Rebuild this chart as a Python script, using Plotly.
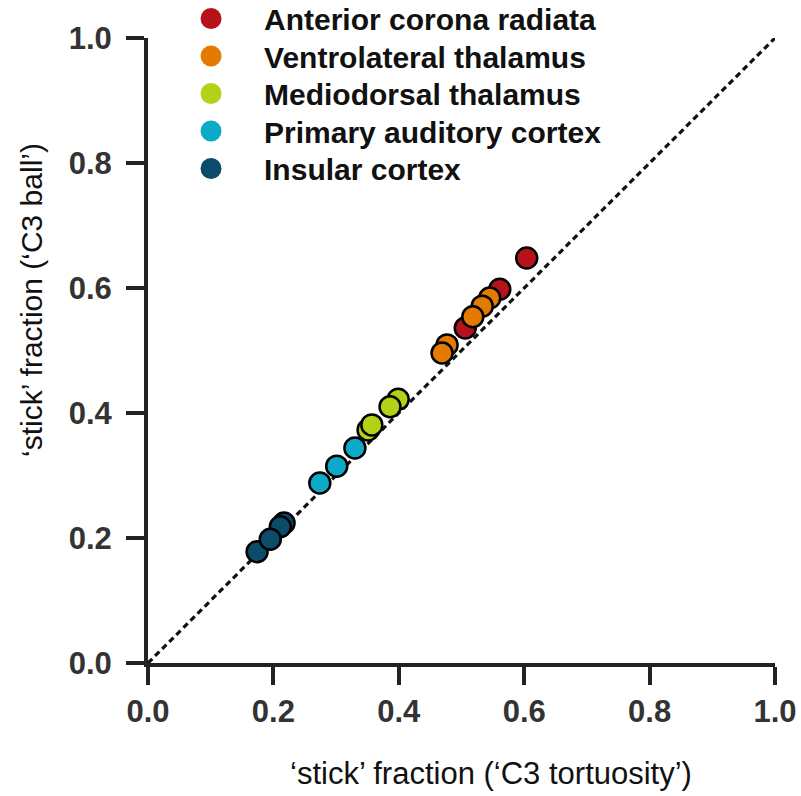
import plotly.graph_objects as go

regions = ["Anterior corona radiata", "Ventrolateral thalamus", "Mediodorsal thalamus",
           "Primary auditory cortex", "Insular cortex"]
colors = ["#B5121B", "#E57A00", "#B5D117", "#0DA9C8", "#0A4C6A"]

acr_x = [0.604, 0.561, 0.506]
acr_y = [0.648, 0.598, 0.536]
vlt_x = [0.545, 0.533, 0.518, 0.477, 0.469]
vlt_y = [0.584, 0.571, 0.554, 0.509, 0.496]
mdt_x = [0.399, 0.386, 0.351, 0.357]
mdt_y = [0.422, 0.410, 0.373, 0.381]
pac_x = [0.330, 0.301, 0.274]
pac_y = [0.344, 0.315, 0.288]
ins_x = [0.217, 0.211, 0.174, 0.195]
ins_y = [0.224, 0.218, 0.178, 0.198]

xs = [acr_x, vlt_x, mdt_x, pac_x, ins_x]
ys = [acr_y, vlt_y, mdt_y, pac_y, ins_y]

tick_vals = [0, 0.2, 0.4, 0.6, 0.8, 1.0]
tick_text = ["0.0", "0.2", "0.4", "0.6", "0.8", "1.0"]
identity = [0.0, 1.0]

x_title = "‘stick’ fraction (‘C3 tortuosity’)"
y_title = "‘stick’ fraction (‘C3 ball’)"

FONT = "Liberation Sans, Arial, Helvetica"

# plot area geometry (px)
plot_left, plot_w = 148, 627
plot_top, plot_h = 38, 625


def px_to_paper_x(px):
    return (px - plot_left) / plot_w


def px_to_paper_y(py):
    return (plot_top + plot_h - py) / plot_h


fig = go.Figure()
fig.add_trace(go.Scatter(x=identity, y=identity, mode="lines",
                         line=dict(color="#111", width=3.2, dash="6px,4px"),
                         showlegend=False, hoverinfo="skip"))
for name, c, x, y in zip(regions, colors, xs, ys):
    fig.add_trace(go.Scatter(x=x, y=y, mode="markers", name=name, showlegend=False,
                             marker=dict(size=21, color=c, line=dict(color="#000", width=2.5))))

legend_names = ["legend", "legend2", "legend3", "legend4", "legend5"]
legend_rows_px = [19, 56.5, 94, 131.5, 169]
legend_layouts = {}
for i, (name, c) in enumerate(zip(regions, colors)):
    fig.add_trace(go.Scatter(x=[None], y=[None], mode="markers", name=name,
                             legend=legend_names[i],
                             marker=dict(size=16, color=c, line=dict(color=c, width=5))))
    legend_layouts[legend_names[i]] = dict(
        x=0.016, y=px_to_paper_y(legend_rows_px[i] - 0.5),
        xanchor="left", yanchor="middle", bgcolor="rgba(0,0,0,0)", itemwidth=96,
        font=dict(family=FONT, size=30, color="#111", weight="bold"))

axis_common = dict(range=[0, 1], showgrid=False, zeroline=False, showline=True,
                   linecolor="#222", linewidth=4, ticks="outside", ticklen=18, tickwidth=4,
                   tickcolor="#222", tickvals=tick_vals, ticktext=tick_text,
                   tickfont=dict(family=FONT, size=31, color="#333", weight="bold"))

fig.update_layout(
    width=801, height=796,
    margin=dict(l=148, r=26, t=38, b=133, autoexpand=False),
    plot_bgcolor="white", paper_bgcolor="white",
    font=dict(family=FONT, color="#111"),
    xaxis=dict(**axis_common),
    yaxis=dict(**axis_common, ticklabelstandoff=8),
    annotations=[
        dict(text=x_title, xref="paper", yref="paper",
             x=px_to_paper_x(491), y=px_to_paper_y(773),
             xanchor="center", yanchor="middle", showarrow=False,
             font=dict(size=31, family=FONT, color="#111")),
        dict(text=y_title, xref="paper", yref="paper", textangle=-90,
             x=px_to_paper_x(31), y=px_to_paper_y(300),
             xanchor="center", yanchor="middle", showarrow=False,
             font=dict(size=30, family=FONT, color="#111")),
    ],
    **legend_layouts,
)

fig.write_html("out.html")
